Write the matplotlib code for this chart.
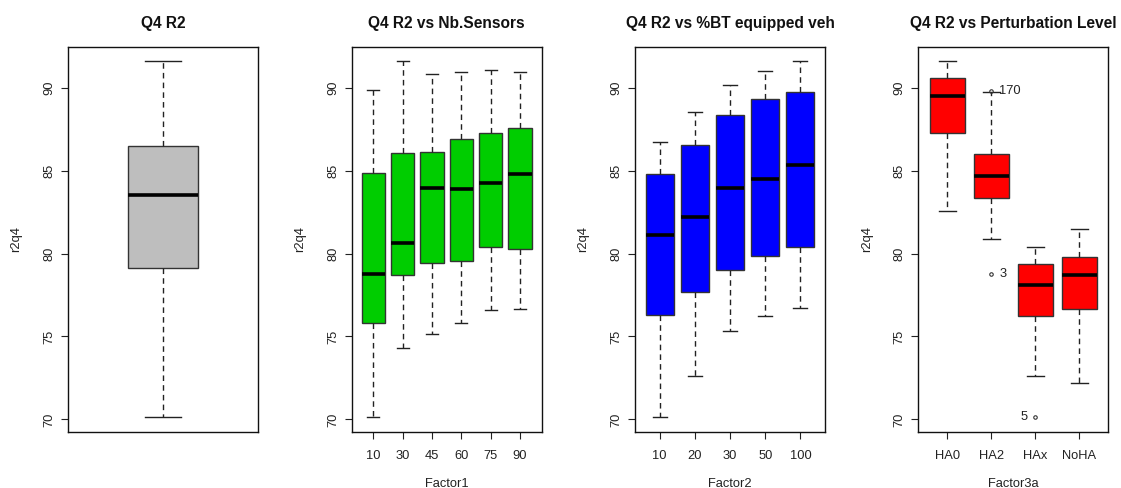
import numpy as np
from matplotlib import pyplot as plt

plt.rcParams['font.family'] = ['Liberation Sans', 'DejaVu Sans']

# values: whisker low, Q1, median, Q3, whisker high
all_lo = [70.14]
all_q1 = [79.10]
all_med = [83.53]
all_q3 = [86.46]
all_hi = [91.59]

f1_labels = ['10', '30', '45', '60', '75', '90']
f1_lo = [70.14, 74.29, 75.12, 75.78, 76.59, 76.65]
f1_q1 = [75.78, 78.68, 79.43, 79.57, 80.41, 80.29]
f1_med = [78.74, 80.65, 83.96, 83.88, 84.24, 84.78]
f1_q3 = [84.88, 86.03, 86.11, 86.92, 87.26, 87.54]
f1_hi = [89.84, 91.59, 90.85, 90.93, 91.09, 90.93]

f2_labels = ['10', '20', '30', '50', '100']
f2_lo = [70.14, 72.60, 75.30, 76.26, 76.71]
f2_q1 = [76.32, 77.65, 79.02, 79.87, 80.41]
f2_med = [81.10, 82.19, 83.96, 84.48, 85.31]
f2_q3 = [84.78, 86.52, 88.35, 89.30, 89.76]
f2_hi = [86.72, 88.53, 90.14, 90.99, 91.59]

f3_labels = ['HA0', 'HA2', 'HAx', 'NoHA']
f3_lo = [82.59, 80.86, 72.60, 72.20]
f3_q1 = [87.24, 83.33, 76.26, 76.65]
f3_med = [89.48, 84.68, 78.08, 78.68]
f3_q3 = [90.56, 85.97, 79.35, 79.81]
f3_hi = [91.59, 89.75, 80.41, 81.50]

# outliers in the last panel (group index, value, id label, side of label)
out_group = [1, 1, 2]
out_value = [89.80, 78.78, 70.14]
out_label = ['170', '3', '5']
out_side = ['right', 'right', 'left']


def make_stats(lo, q1, med, q3, hi):
    stats = []
    for i in range(len(lo)):
        stats.append(dict(whislo=lo[i], q1=q1[i], med=med[i], q3=q3[i],
                          whishi=hi[i], fliers=[]))
    return stats


def draw_panel(ax, stats, color, labels, title, xlabel):
    n = len(stats)
    pos = np.arange(1, n + 1)
    w = 0.4 if n == 1 else 0.8
    ax.bxp(stats, positions=pos, widths=w, patch_artist=True,
           capwidths=w / 2, showfliers=False,
           boxprops=dict(facecolor=color, edgecolor='#333333', linewidth=1.0),
           whiskerprops=dict(color='#222222', linewidth=1.0,
                             linestyle=(0, (4, 3))),
           capprops=dict(color='#222222', linewidth=1.0),
           medianprops=dict(color='black', linewidth=2.6, solid_capstyle='butt'))
    ext = 0.04 * n
    ax.set_xlim(0.5 - ext, n + 0.5 + ext)
    ax.set_ylim(69.24, 92.45)
    ax.set_yticks([70, 75, 80, 85, 90])
    ax.tick_params(axis='y', labelrotation=90, length=5, pad=4,
                   labelsize=9.3, colors='#222222')
    for t in ax.get_yticklabels():
        t.set_va('center')
    if labels is None:
        ax.set_xticks([])
    else:
        ax.set_xticks(pos)
        ax.set_xticklabels(labels)
        ax.tick_params(axis='x', length=5, pad=8, labelsize=9.3,
                       colors='#222222')
    ax.set_title(title, fontsize=11.2, fontweight='bold', pad=14,
                 color='#111111')
    ax.set_ylabel('r2q4', fontsize=9.3, color='#222222')
    ax.yaxis.set_label_coords(-0.24, 0.5)
    if xlabel:
        ax.set_xlabel(xlabel, fontsize=9.3, color='#222222')
        ax.xaxis.set_label_coords(0.5, -0.12)
    for s in ax.spines.values():
        s.set_linewidth(1.0)
        s.set_color('#111111')


fig = plt.figure(figsize=(11.21, 4.88), dpi=100)
lefts = [0.0607, 0.3137, 0.5665, 0.8192]
axes = [fig.add_axes([l, 0.1148, 0.1695, 0.7889]) for l in lefts]

draw_panel(axes[0], make_stats(all_lo, all_q1, all_med, all_q3, all_hi),
           '#BEBEBE', None, 'Q4 R2', None)
draw_panel(axes[1], make_stats(f1_lo, f1_q1, f1_med, f1_q3, f1_hi),
           '#00CD00', f1_labels, 'Q4 R2 vs Nb.Sensors', 'Factor1')
draw_panel(axes[2], make_stats(f2_lo, f2_q1, f2_med, f2_q3, f2_hi),
           '#0000FF', f2_labels, 'Q4 R2 vs %BT equipped veh', 'Factor2')
draw_panel(axes[3], make_stats(f3_lo, f3_q1, f3_med, f3_q3, f3_hi),
           '#FF0000', f3_labels, 'Q4 R2 vs Perturbation Level', 'Factor3a')

ax = axes[3]
for g, v, lab, side in zip(out_group, out_value, out_label, out_side):
    ax.plot(g + 1, v, 'o', mfc='none', mec='#333333', ms=2.5, mew=0.8)
    if side == 'right':
        ax.text(g + 1.18, v, lab, ha='left', va='center', fontsize=9.3,
                color='#222222')
    else:
        ax.text(g + 0.82, v, lab, ha='right', va='center', fontsize=9.3,
                color='#222222')

fig.savefig('out.png', dpi=100)
